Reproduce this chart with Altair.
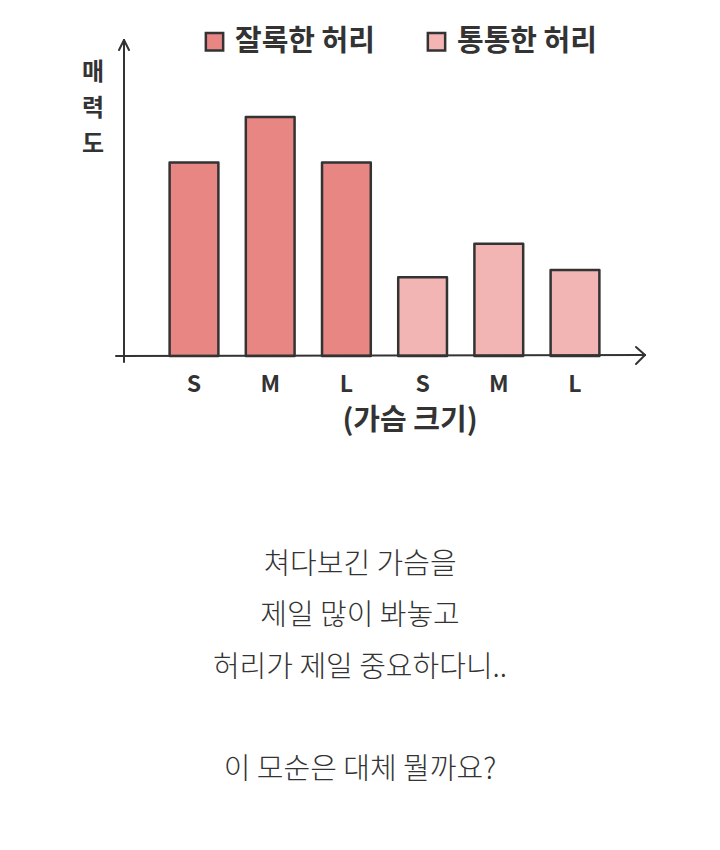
import altair as alt
import pandas as pd

# ---- data ----
groups = ["잘록한 허리", "잘록한 허리", "잘록한 허리", "통통한 허리", "통통한 허리", "통통한 허리"]
sizes = ["S", "M", "L", "S", "M", "L"]
keys = ["slim-S", "slim-M", "slim-L", "chubby-S", "chubby-M", "chubby-L"]
values = [8.1, 10.0, 8.1, 3.3, 4.7, 3.6]
legend_order = ["잘록한 허리", "통통한 허리"]
colors = ["#E88684", "#F2B5B4"]
y_title_chars = ["매", "력", "도"]
caption_lines = ["쳐다보긴 가슴을", "제일 많이 봐놓고", "허리가 제일 중요하다니..", "", "이 모순은 대체 뭘까요?"]
x_title = "(가슴 크기)"

df = pd.DataFrame({"key": keys, "group": groups, "size": sizes, "value": values})

OFF = 8  # page margin
FONT_HAND = "Noto Sans CJK KR"

x_scale = alt.Scale(domain=keys, range=[194 - 38.1 - OFF, 575 + 38.1 - OFF],
                    paddingInner=0.36, paddingOuter=0.18)
y_scale = alt.Scale(domain=[0, 10], range=[356 - OFF, 117 - OFF], nice=False, zero=True)

base = alt.Chart(df)

bars = base.mark_bar(stroke="#333333", strokeWidth=2.5, strokeJoin="round").encode(
    x=alt.X("key:N", scale=x_scale, axis=None, sort=keys),
    y=alt.Y("value:Q", scale=y_scale, axis=None),
    color=alt.Color("group:N", scale=alt.Scale(domain=legend_order, range=colors),
                    sort=legend_order,
                    legend=alt.Legend(title=None, orient="none", direction="horizontal",
                                      legendX=205 - OFF - 5, legendY=27 - OFF,
                                      symbolType="square", symbolSize=300,
                                      symbolStrokeColor="#333333", symbolStrokeWidth=2.5,
                                      symbolOpacity=1,
                                      labelFont=FONT_HAND, labelFontSize=29, labelFontWeight="bold",
                                      labelColor="#333333", labelOffset=6, columnPadding=47,
                                      labelLimit=400)),
)

tick_labels = base.mark_text(font=FONT_HAND, fontSize=23, fontWeight="bold", color="#333333").encode(
    x=alt.X("key:N", scale=x_scale, axis=None, sort=keys),
    y=alt.value(385 - OFF),
    text="size:N",
)

axis_color = "#333333"
def seg(x1, y1, x2, y2, w=2):
    return alt.Chart(pd.DataFrame({"a": [0]})).mark_rule(color=axis_color, strokeWidth=w, strokeCap="round").encode(
        x=alt.value(x1 - OFF), y=alt.value(y1 - OFF), x2=alt.value(x2 - OFF), y2=alt.value(y2 - OFF))

axes = [
    seg(124, 40, 124, 362),
    seg(124, 40, 119, 50),
    seg(124, 40, 129, 50),
    seg(116, 356, 645, 355),
    seg(645, 355, 636, 347),
    seg(645, 355, 636, 364),
]

top_line = alt.Chart(pd.DataFrame({"a": [0]})).mark_rule(color="#ececec", strokeWidth=3).encode(
    x=alt.value(105 - OFF), x2=alt.value(672 - OFF), y=alt.value(1 - OFF + 1))

x_title_mark = alt.Chart(pd.DataFrame({"t": [x_title]})).mark_text(
    font=FONT_HAND, fontSize=29, fontWeight="bold", color="#333333").encode(
    x=alt.value(410 - OFF), y=alt.value(421 - OFF), text="t:N")

ytdf = pd.DataFrame({"t": y_title_chars, "i": list(range(len(y_title_chars)))})
y_title_mark = alt.Chart(ytdf).mark_text(
    font=FONT_HAND, fontSize=24, fontWeight="bold", color="#333333").encode(
    x=alt.value(93 - OFF),
    y=alt.Y("i:Q", scale=alt.Scale(domain=[0, 2], range=[73 - OFF, 145 - OFF], zero=False, nice=False), axis=None),
    text="t:N")

capdf = pd.DataFrame({"t": caption_lines, "i": list(range(len(caption_lines)))})
caption = alt.Chart(capdf).mark_text(
    font="Noto Sans CJK KR", fontSize=29, fontWeight=300, color="#333333").encode(
    x=alt.value(360 - OFF),
    y=alt.Y("i:Q", scale=alt.Scale(domain=[0, 4], range=[565 - OFF, 770 - OFF], zero=False, nice=False), axis=None),
    text="t:N")

chart = alt.layer(top_line, bars, tick_labels, x_title_mark, y_title_mark, caption, *axes).properties(
    width=704, height=834, padding=0, autosize=alt.AutoSizeParams(type="none"),
    background="white",
).resolve_scale(y="independent").configure_view(stroke=None)

chart.save("out.html", embed_options={"renderer": "svg", "actions": False})
